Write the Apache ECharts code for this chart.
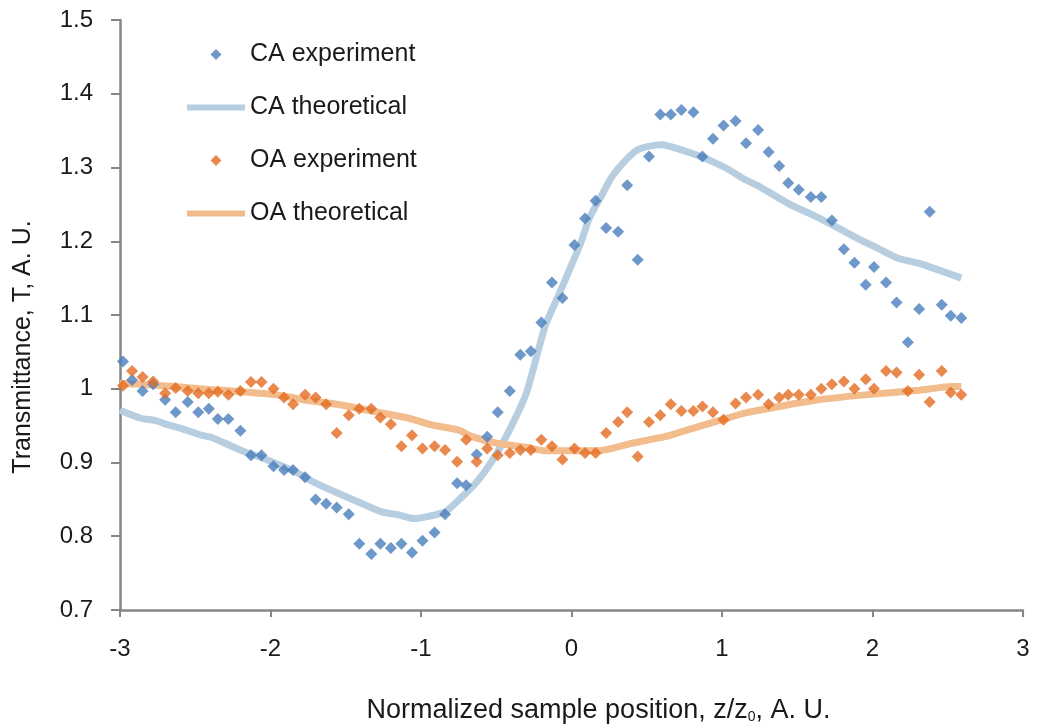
<!DOCTYPE html>
<html>
<head>
<meta charset="utf-8">
<script src="https://cdn.jsdelivr.net/npm/echarts@6/dist/echarts.min.js"></script>
<style>
  html, body { margin: 0; padding: 0; background: #fff; }
  #chart { width: 1037px; height: 727px; }
</style>
</head>
<body>
<div id="chart"></div>
<script>
// experiment positions (shared by CA and OA scans)
const zExp = [-2.98, -2.92, -2.85, -2.78, -2.70, -2.63, -2.55, -2.48, -2.41, -2.35, -2.28, -2.20, -2.13, -2.06, -1.98,
  -1.91, -1.85, -1.77, -1.70, -1.63, -1.56, -1.48, -1.41, -1.33, -1.27, -1.20, -1.13, -1.06, -0.99, -0.91, -0.84,
  -0.76, -0.70, -0.63, -0.56, -0.49, -0.41, -0.34, -0.27, -0.20, -0.13, -0.06, 0.02, 0.09, 0.16, 0.23, 0.31, 0.37,
  0.44, 0.515, 0.59, 0.66, 0.73, 0.81, 0.87, 0.94, 1.01, 1.09, 1.16, 1.24, 1.31, 1.38, 1.44, 1.51, 1.59, 1.66, 1.73,
  1.81, 1.88, 1.955, 2.01, 2.09, 2.16, 2.235, 2.31, 2.38, 2.46, 2.52, 2.59];

const caExp = [1.037, 1.012, 0.997, 1.006, 0.985, 0.968, 0.982, 0.968, 0.973, 0.959, 0.959, 0.943, 0.910, 0.910, 0.895,
  0.890, 0.890, 0.880, 0.850, 0.844, 0.839, 0.830, 0.790, 0.776, 0.790, 0.784, 0.790, 0.778, 0.794, 0.805, 0.830,
  0.872, 0.869, 0.911, 0.935, 0.968, 0.997, 1.046, 1.051, 1.090, 1.144, 1.123, 1.195, 1.231, 1.255, 1.218, 1.213, 1.276,
  1.175, 1.315, 1.372, 1.372, 1.378, 1.375, 1.315, 1.339, 1.357, 1.363, 1.333, 1.351, 1.321, 1.302, 1.279, 1.270, 1.260,
  1.260, 1.228, 1.189, 1.171, 1.141, 1.165, 1.144, 1.117, 1.063, 1.108, 1.240, 1.114, 1.099, 1.096];

const oaExp = [1.004, 1.024, 1.016, 1.010, 0.994, 1.001, 0.997, 0.994, 0.994, 0.996, 0.992, 0.997, 1.009, 1.009, 1.000,
  0.988, 0.979, 0.992, 0.988, 0.979, 0.940, 0.964, 0.973, 0.973, 0.961, 0.952, 0.922, 0.937, 0.919, 0.922, 0.917,
  0.901, 0.931, 0.901, 0.919, 0.910, 0.913, 0.917, 0.917, 0.931, 0.922, 0.904, 0.919, 0.913, 0.913, 0.940, 0.955, 0.968,
  0.908, 0.955, 0.964, 0.979, 0.970, 0.970, 0.976, 0.968, 0.958, 0.980, 0.988, 0.992, 0.979, 0.988, 0.992, 0.992, 0.992,
  1.000, 1.006, 1.010, 1.000, 1.013, 1.000, 1.024, 1.022, 0.997, 1.019, 0.982, 1.024, 0.995, 0.992];

// theoretical curves
const caTheoZ = [-3.00, -2.86, -2.77, -2.68, -2.59, -2.46, -2.39, -2.28, -2.19, -2.08, -1.97, -1.84, -1.71, -1.57, -1.40,
  -1.26, -1.15, -1.05, -0.95, -0.84, -0.74, -0.62, -0.51, -0.40, -0.30, -0.23, -0.17, -0.09, -0.01, 0.06, 0.12, 0.20,
  0.27, 0.37, 0.44, 0.52, 0.60, 0.73, 0.87, 1.02, 1.15, 1.24, 1.46, 1.60, 1.77, 1.90, 2.04, 2.17, 2.31, 2.44, 2.59];
const caTheo = [0.971, 0.960, 0.957, 0.951, 0.946, 0.937, 0.934, 0.924, 0.916, 0.908, 0.899, 0.888, 0.873, 0.860, 0.845,
  0.833, 0.829, 0.824, 0.827, 0.833, 0.851, 0.876, 0.908, 0.949, 0.994, 1.045, 1.088, 1.125, 1.163, 1.197, 1.232, 1.262,
  1.288, 1.312, 1.324, 1.329, 1.331, 1.324, 1.314, 1.300, 1.284, 1.275, 1.249, 1.236, 1.218, 1.204, 1.190, 1.177, 1.170,
  1.161, 1.150];

const oaTheoZ = [-3.00, -2.86, -2.64, -2.41, -2.19, -1.97, -1.75, -1.53, -1.31, -1.08, -0.93, -0.75, -0.66, -0.49, -0.31,
  -0.18, 0.00, 0.18, 0.40, 0.62, 0.80, 1.00, 1.15, 1.38, 1.64, 1.86, 2.08, 2.31, 2.53, 2.59];
const oaTheo = [1.007, 1.006, 1.003, 0.999, 0.996, 0.992, 0.984, 0.978, 0.969, 0.960, 0.951, 0.944, 0.935, 0.926, 0.921,
  0.916, 0.916, 0.916, 0.926, 0.935, 0.946, 0.958, 0.967, 0.976, 0.985, 0.990, 0.994, 0.998, 1.003, 1.003];

const xTicks = [-3, 3, 1];
const yTicks = [0.7, 1.5, 0.1];

const pair = (xs, ys) => xs.map((x, i) => [x, ys[i]]);

const FONT = "'Liberation Sans', Arial, sans-serif";
const TEXT = "#1a1a1a";
const AXIS = "#868686";
const diamond = "path://M0,-1L1,0L0,1L-1,0Z";
const bar = "path://M0,0H58V6H0Z";

const chart = echarts.init(document.getElementById("chart"), null, { renderer: "canvas" });
chart.setOption({
  backgroundColor: "#fff",
  animation: false,
  grid: { left: 120, right: 14, top: 20, bottom: 117, containLabel: false, outerBoundsMode: "none" },
  legend: {
    orient: "vertical",
    left: 187,
    top: 42,
    padding: 0,
    itemWidth: 58,
    itemHeight: 11,
    itemGap: 28,
    textStyle: { fontFamily: FONT, fontSize: 25, color: TEXT },
    data: [
      { name: "CA experiment", icon: diamond },
      { name: "CA theoretical", icon: bar },
      { name: "OA experiment", icon: diamond },
      { name: "OA theoretical", icon: bar },
    ],
  },
  xAxis: {
    type: "value",
    min: xTicks[0],
    max: xTicks[1],
    interval: xTicks[2],
    name: "Normalized sample position, z/z{sub|0}, A. U.",
    nameLocation: "middle",
    nameGap: 87,
    nameTextStyle: {
      fontFamily: FONT, fontSize: 27, color: TEXT,
      padding: [0, 0, 0, 54],
      rich: { sub: { fontFamily: FONT, fontSize: 14, color: TEXT, verticalAlign: "bottom", padding: [10, 0, 0, 0] } },
    },
    axisLine: { onZero: false, lineStyle: { color: AXIS, width: 2.5 } },
    axisTick: { length: 7, lineStyle: { color: AXIS, width: 2 } },
    axisLabel: { margin: 27, fontFamily: FONT, fontSize: 24, color: TEXT },
    splitLine: { show: false },
  },
  yAxis: {
    type: "value",
    min: yTicks[0],
    max: yTicks[1],
    interval: yTicks[2],
    name: "Transmittance, T, A. U.",
    nameLocation: "middle",
    nameGap: 84,
    nameTextStyle: { fontFamily: FONT, fontSize: 25, color: TEXT, padding: [0, 64, 0, 0] },
    axisLine: { show: true, onZero: false, lineStyle: { color: AXIS, width: 2.5 } },
    axisTick: { show: true, length: 9, lineStyle: { color: AXIS, width: 2 } },
    axisLabel: {
      margin: 27, fontFamily: FONT, fontSize: 24, color: TEXT,
      formatter: (v) => String(+v.toFixed(1)),
    },
    splitLine: { show: false },
  },
  series: [
    {
      name: "CA theoretical",
      type: "line",
      data: pair(caTheoZ, caTheo),
      symbol: "none",
      smooth: 0.2,
      color: "#b7cde0",
      lineStyle: { width: 7, color: "#b7cde0" },
      z: 1,
    },
    {
      name: "OA theoretical",
      type: "line",
      data: pair(oaTheoZ, oaTheo),
      symbol: "none",
      smooth: 0.2,
      color: "#f2bc8d",
      lineStyle: { width: 7, color: "#f2bc8d" },
      z: 1,
    },
    {
      name: "CA experiment",
      type: "scatter",
      data: pair(zExp, caExp),
      symbol: "diamond",
      symbolSize: 12,
      color: "#4a7ebb",
      z: 3,
    },
    {
      name: "OA experiment",
      type: "scatter",
      data: pair(zExp, oaExp),
      symbol: "diamond",
      symbolSize: 12,
      color: "#e36c22",
      z: 3,
    },
  ],
});
</script>
</body>
</html>
